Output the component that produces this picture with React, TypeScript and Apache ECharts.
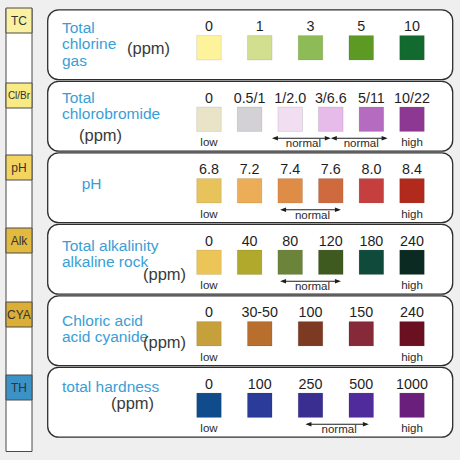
import React, { useEffect, useRef } from "react";
import * as echarts from "echarts";

// ---- data ----
const ROW_TAGS = ["TC", "Cl/Br", "pH", "Alk", "CYA", "TH"];
const ROW_TAG_COLORS = ["#fbf1a2", "#f9ea84", "#f3d45e", "#e3ba40", "#dbaf37", "#3b92c6"];

const TC_LABELS = ["0", "1", "3", "5", "10"];
const TC_COLORS = ["#fdf39a", "#d2df8e", "#8dbb55", "#5c9a24", "#126a2e"];
const CLBR_LABELS = ["0", "0.5/1", "1/2.0", "3/6.6", "5/11", "10/22"];
const CLBR_COLORS = ["#e9e4c8", "#d3d0d6", "#f1def0", "#e6bae9", "#b56bc0", "#8d3893"];
const PH_LABELS = ["6.8", "7.2", "7.4", "7.6", "8.0", "8.4"];
const PH_COLORS = ["#e8c25a", "#ebad58", "#df8c46", "#cf6a3e", "#c43f3d", "#b22a1c"];
const ALK_LABELS = ["0", "40", "80", "120", "180", "240"];
const ALK_COLORS = ["#ebc558", "#b0a92c", "#6c843a", "#3f5a1f", "#0f4a3a", "#0b2b22"];
const CYA_LABELS = ["0", "30-50", "100", "150", "240"];
const CYA_COLORS = ["#c6a03a", "#b86e2c", "#7b3a21", "#862938", "#6a1020"];
const TH_LABELS = ["0", "100", "250", "500", "1000"];
const TH_COLORS = ["#104b8b", "#2b3b99", "#3a2e90", "#4f2b9c", "#6b1f7c"];

const ROW_LABELS = [TC_LABELS, CLBR_LABELS, PH_LABELS, ALK_LABELS, CYA_LABELS, TH_LABELS];
const ROW_COLORS = [TC_COLORS, CLBR_COLORS, PH_COLORS, ALK_COLORS, CYA_COLORS, TH_COLORS];
const HAS_LOW_HIGH = [false, true, true, true, true, true];

// [row, fromSwatchIndex, toSwatchIndex]
const NORMAL_RANGES = [
  [1, 1.55, 3.0],
  [1, 3.0, 4.4],
  [2, 1.75, 3.25],
  [3, 1.75, 3.25],
  [5, 1.9, 3.15],
];

const TITLES = [
  ["Total", "chlorine", "gas"],
  ["Total", "chlorobromide"],
  ["pH"],
  ["Total alkalinity", "alkaline rock"],
  ["Chloric acid", "acid cyanide"],
  ["total hardness"],
];
const HAS_PPM = [true, true, false, true, true, true];

// ---- layout (positions / styles only) ----
const BOX_TOP = 9;
const ROW_H = 71.5;
const TITLE_LAYOUT = [
  { x: 62, ys: [27.7, 43.7, 60], px: 127, py: 48 },
  { x: 62, ys: [97.7, 113.7], px: 79, py: 135 },
  { x: 81.7, ys: [183], px: 0, py: 0 },
  { x: 62, ys: [245.7, 261.7], px: 143, py: 273.5 },
  { x: 62, ys: [320, 336], px: 143, py: 341.7 },
  { x: 62, ys: [386.7], px: 111, py: 403.3 },
];
const TAG_TOPS = [8, 83, 155, 228, 302, 375];
const FONT = "Liberation Sans, Arial, Helvetica, sans-serif";
const TITLE_COLOR = "#3a9ed6";

type Cell = { row: number; idx: number; n: number; label: string; color: string; below: string };

export default function App() {
  const ref = useRef<HTMLDivElement>(null);

  useEffect(() => {
    document.body.style.margin = "0";
    if (!ref.current) return;
    const chart = echarts.init(ref.current, undefined, { renderer: "svg" });

    const cells: Cell[] = [];
    ROW_LABELS.forEach((labels, row) => {
      const n = labels.length;
      labels.forEach((label, idx) => {
        let below = "";
        if (HAS_LOW_HIGH[row]) {
          if (idx === 0) below = "low";
          if (idx === n - 1) below = "high";
        }
        cells.push({ row, idx, n, label, color: ROW_COLORS[row][idx], below });
      });
    });

    const normals = NORMAL_RANGES.map(([row, a, b]) => {
      const n = ROW_LABELS[row].length;
      return [a / (n - 1), b / (n - 1), row];
    });

    const graphic: any[] = [];
    // left strip
    graphic.push({
      type: "rect",
      z: 0,
      shape: { x: 6, y: 8.5, width: 26, height: 443 },
      style: { fill: "#ffffff", stroke: "#4a4a4a", lineWidth: 1 },
    });
    ROW_TAGS.forEach((tag, i) => {
      graphic.push({
        type: "rect",
        z: 1,
        shape: { x: 6, y: TAG_TOPS[i], width: 26, height: 25 },
        style: { fill: ROW_TAG_COLORS[i], stroke: "#4a4a4a", lineWidth: 1 },
      });
      graphic.push({
        type: "text",
        z: 2,
        style: {
          text: tag,
          x: 19,
          y: TAG_TOPS[i] + 12.5,
          fill: "#333",
          font: `${tag.length > 3 ? 10 : 12}px ${FONT}`,
          textAlign: "center",
          align: "center",
          textVerticalAlign: "middle",
          verticalAlign: "middle",
        },
      });
    });
    // row boxes
    for (let r = 0; r < 6; r++) {
      graphic.push({
        type: "rect",
        z: 0,
        shape: { x: 47.7, y: BOX_TOP + ROW_H * r + 0.8, width: 405, height: ROW_H - 1.6, r: 11 },
        style: { fill: "#ffffff", stroke: "#2e2e2e", lineWidth: 1.3 },
      });
      const lay = TITLE_LAYOUT[r];
      TITLES[r].forEach((t, k) => {
        graphic.push({
          type: "text",
          z: 2,
          style: {
            text: t,
            x: lay.x,
            y: lay.ys[k],
            fill: TITLE_COLOR,
            font: `15.5px ${FONT}`,
            textAlign: "left",
            align: "left",
            textVerticalAlign: "middle",
            verticalAlign: "middle",
          },
        });
      });
      if (HAS_PPM[r]) {
        graphic.push({
          type: "text",
          z: 2,
          style: {
            text: "(ppm)",
            x: lay.px,
            y: lay.py,
            fill: "#3a3a3a",
            font: `16.5px ${FONT}`,
            textAlign: "left",
            align: "left",
            textVerticalAlign: "middle",
            verticalAlign: "middle",
          },
        });
      }
    }

    const txt = (text: string, x: number, y: number, size: number, fill: string) => ({
      type: "text",
      style: {
        text,
        x,
        y,
        fill,
        font: `${size}px ${FONT}`,
        textAlign: "center",
        align: "center",
        textVerticalAlign: "middle",
        verticalAlign: "middle",
      },
    });

    chart.setOption({
      animation: false,
      backgroundColor: "#efefef",
      grid: { left: 209, right: 48, top: BOX_TOP, height: ROW_H * 6 },
      xAxis: { type: "value", min: 0, max: 1, show: false },
      yAxis: { type: "category", data: ROW_TAGS, inverse: true, show: false },
      graphic,
      series: [
        {
          type: "custom",
          z: 10,
          coordinateSystem: "cartesian2d",
          encode: { x: 0, y: 1 },
          data: cells.map((c) => [c.idx / (c.n - 1), c.row]),
          renderItem: (params: any, api: any) => {
            const c = cells[params.dataIndex];
            const p = api.coord([api.value(0), api.value(1)]);
            const cx = p[0];
            const cy = p[1] + 3;
            const children: any[] = [
              {
                type: "rect",
                shape: { x: cx - 12.3, y: cy - 12.2, width: 24.6, height: 24.4 },
                style: { fill: c.color, stroke: "rgba(0,0,0,0.12)", lineWidth: 0.8 },
              },
              txt(c.label, cx, cy - 21.5, 14.3, "#1e1e1e"),
            ];
            if (c.below) children.push(txt(c.below, cx, cy + 23, 11.5, "#2a2a2a"));
            return { type: "group", children };
          },
        },
        {
          type: "custom",
          z: 10,
          coordinateSystem: "cartesian2d",
          encode: { x: [0, 1], y: 2 },
          data: normals,
          renderItem: (params: any, api: any) => {
            const a = api.coord([api.value(0), api.value(2)]);
            const b = api.coord([api.value(1), api.value(2)]);
            const y = a[1] + 3 + 19;
            const x1 = a[0];
            const x2 = b[0];
            const head = 6;
            return {
              type: "group",
              children: [
                {
                  type: "line",
                  shape: { x1: x1 + 2, y1: y, x2: x2 - 2, y2: y },
                  style: { stroke: "#1e1e1e", lineWidth: 1 },
                },
                {
                  type: "polygon",
                  shape: { points: [[x1, y], [x1 + head, y - 2.2], [x1 + head, y + 2.2]] },
                  style: { fill: "#1e1e1e" },
                },
                {
                  type: "polygon",
                  shape: { points: [[x2, y], [x2 - head, y - 2.2], [x2 - head, y + 2.2]] },
                  style: { fill: "#1e1e1e" },
                },
                txt("normal", (x1 + x2) / 2 + 2, y + 5, 11.5, "#2a2a2a"),
              ],
            };
          },
        },
      ],
    });

    return () => chart.dispose();
  }, []);

  return <div ref={ref} style={{ width: 460, height: 460 }} />;
}
